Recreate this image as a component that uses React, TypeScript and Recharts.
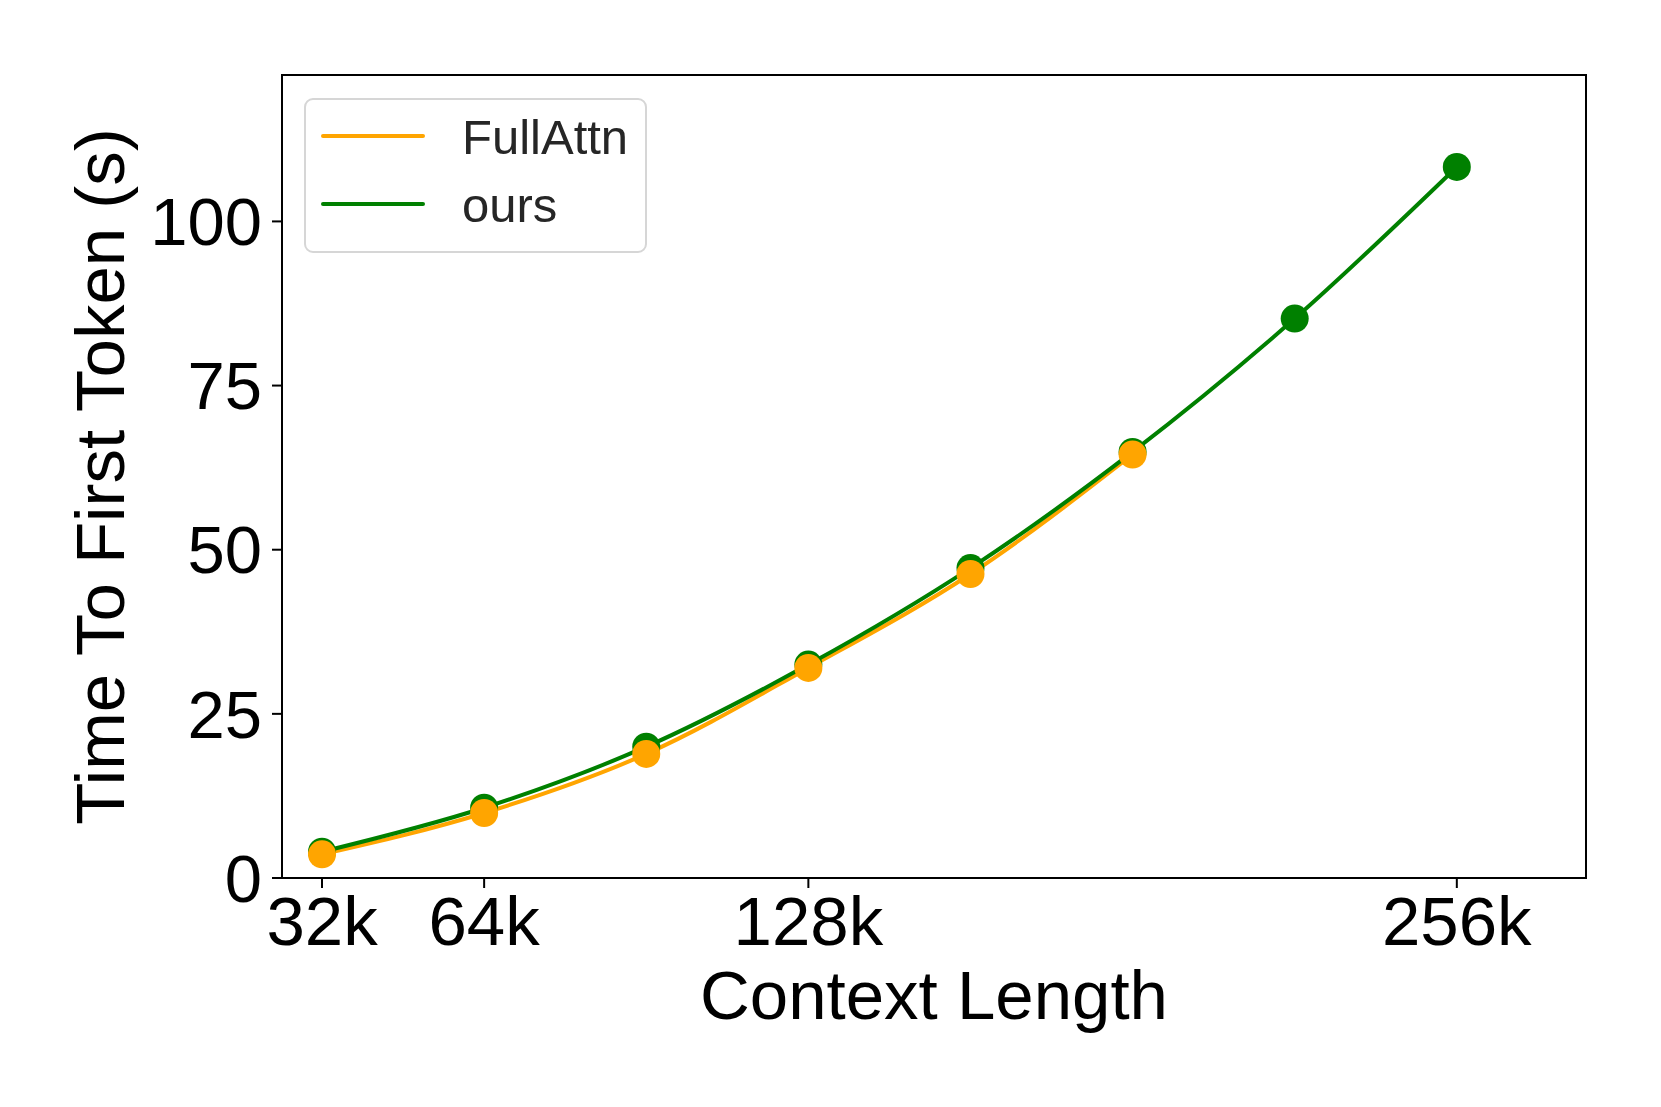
import {
  LineChart,
  Line,
  XAxis,
  YAxis,
  Legend,
  ReferenceArea,
} from "recharts";

const CONTEXT_K = [32, 64, 96, 128, 160, 192, 224, 256];
const FULL_ATTN = [3.6, 9.9, 18.9, 32.0, 46.3, 64.5];
const OURS = [4.0, 10.7, 20.0, 32.5, 47.2, 64.9, 85.2, 108.3];
const X_TICKS = [32, 64, 128, 256];
const Y_TICKS = [0, 25, 50, 75, 100];

const ORANGE = "#ffa500";
const GREEN = "#008000";
const FONT = "'Liberation Sans', Arial, sans-serif";

const X_DOMAIN: [number, number] = [24.1, 281.5];
const Y_DOMAIN: [number, number] = [0, 122.3];

const data = CONTEXT_K.map((k, i) => ({
  ctx: k,
  full: i < FULL_ATTN.length ? FULL_ATTN[i] : null,
  ours: OURS[i],
}));

function LegendBox() {
  return (
    <svg width={345} height={157} style={{ display: "block" }}>
      <rect
        x={1}
        y={1}
        width={341}
        height={153}
        rx={8}
        fill="#fff"
        fillOpacity={0.8}
        stroke="#d6d6d6"
        strokeWidth={2}
      />
      <line x1={19} x2={119} y1={38} y2={38} stroke={ORANGE} strokeWidth={4} strokeLinecap="round" />
      <line x1={19} x2={119} y1={106} y2={106} stroke={GREEN} strokeWidth={4} strokeLinecap="round" />
      <text x={158} y={56} fontSize={49} fontFamily={FONT} fill="#262626">
        FullAttn
      </text>
      <text x={158} y={124} fontSize={49} fontFamily={FONT} fill="#262626">
        ours
      </text>
    </svg>
  );
}

const xLabel = (props: any) => {
  const vb = props.viewBox;
  return (
    <text
      x={vb.x + vb.width / 2}
      y={vb.y + 141}
      textAnchor="middle"
      fontSize={69}
      fontFamily={FONT}
      fill="#000"
    >
      Context Length
    </text>
  );
};

const yLabel = (props: any) => {
  const vb = props.viewBox;
  const x = vb.x + vb.width - 158;
  const y = vb.y + vb.height / 2;
  return (
    <text
      x={x}
      y={y}
      textAnchor="middle"
      fontSize={69}
      fontFamily={FONT}
      fill="#000"
      transform={`rotate(-90, ${x}, ${y})`}
    >
      Time To First Token (s)
    </text>
  );
};

export default function App() {
  return (
    <div
      style={{
        position: "absolute",
        left: 0,
        top: 0,
        width: 1661,
        height: 1107,
        background: "#fff",
      }}
    >
      <LineChart
        width={1661}
        height={1107}
        data={data}
        margin={{ top: 75, right: 75, bottom: 169, left: 182 }}
      >
        <XAxis
          dataKey="ctx"
          type="number"
          domain={X_DOMAIN}
          allowDataOverflow
          ticks={X_TICKS}
          tickFormatter={(v: number) => `${v}k`}
          height={60}
          axisLine={false}
          tickLine={{ stroke: "#000", strokeWidth: 2 }}
          tickSize={10}
          tickMargin={8}
          tick={{ fontSize: 69, fontFamily: FONT, fill: "#000" }}
          label={xLabel}
        />
        <YAxis
          type="number"
          domain={Y_DOMAIN}
          allowDataOverflow
          ticks={Y_TICKS}
          width={100}
          axisLine={false}
          tickLine={{ stroke: "#000", strokeWidth: 2 }}
          tickSize={10}
          tickMargin={10}
          tick={{ fontSize: 67, fontFamily: FONT, fill: "#000" }}
          label={yLabel}
        />
        <ReferenceArea
          x1={X_DOMAIN[0]}
          x2={X_DOMAIN[1]}
          y1={Y_DOMAIN[0]}
          y2={Y_DOMAIN[1]}
          fill="none"
          stroke="#000"
          strokeWidth={2}
        />
        {/* markers first, green under orange, then the lines on top */}
        <Line
          dataKey="ours"
          stroke="none"
          dot={{ r: 14, fill: GREEN, stroke: "none", strokeWidth: 0 }}
          activeDot={false}
          legendType="none"
          isAnimationActive={false}
        />
        <Line
          dataKey="full"
          stroke="none"
          dot={{ r: 14, fill: ORANGE, stroke: "none", strokeWidth: 0 }}
          activeDot={false}
          legendType="none"
          isAnimationActive={false}
        />
        <Line
          type="monotone"
          dataKey="full"
          stroke={ORANGE}
          strokeWidth={4}
          dot={false}
          activeDot={false}
          isAnimationActive={false}
        />
        <Line
          type="monotone"
          dataKey="ours"
          stroke={GREEN}
          strokeWidth={4}
          dot={false}
          activeDot={false}
          isAnimationActive={false}
        />
        <Legend
          layout="vertical"
          align="center"
          verticalAlign="middle"
          wrapperStyle={{ left: 304, top: 98, width: 345, height: 157 }}
          content={() => <LegendBox />}
        />
      </LineChart>
    </div>
  );
}
